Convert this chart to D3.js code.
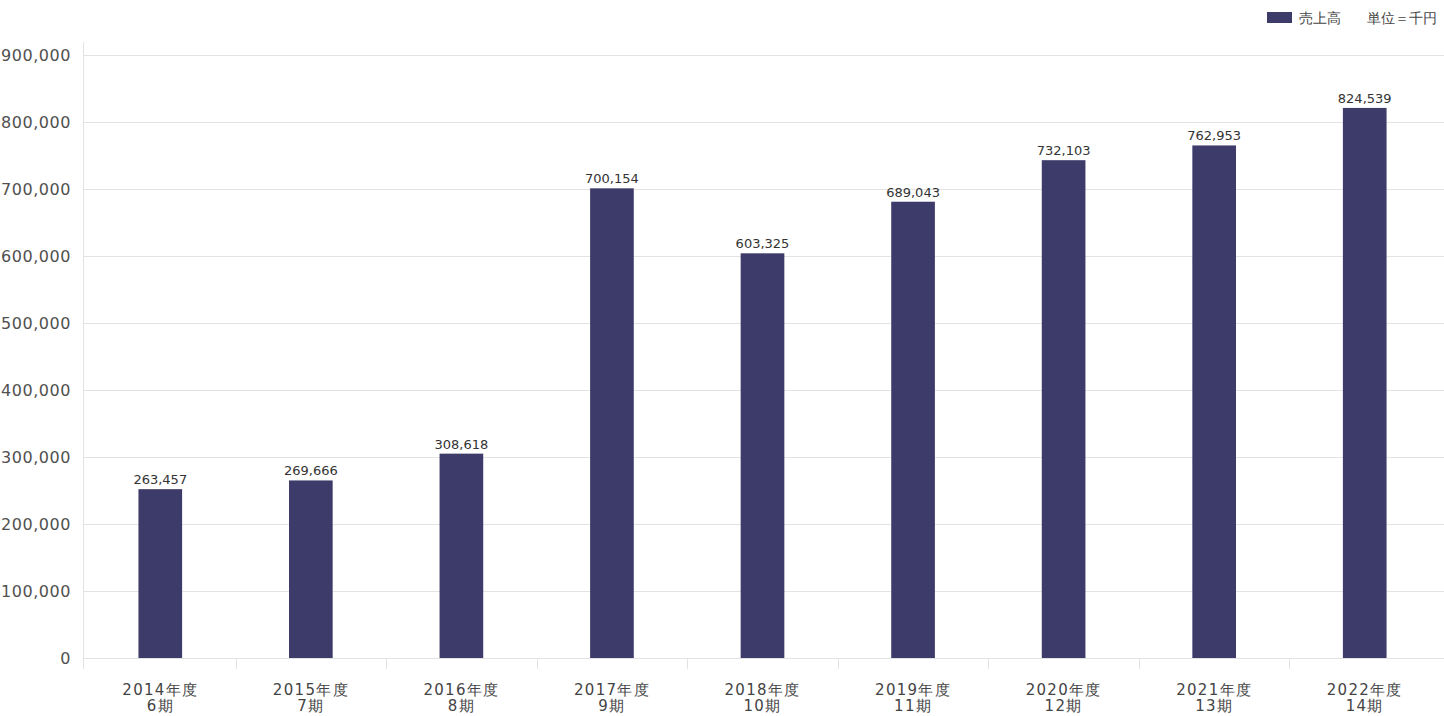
<!DOCTYPE html>
<html><head><meta charset="utf-8">
<script src="https://cdn.jsdelivr.net/npm/d3@7"></script>
<style>body{margin:0;background:#fff;}svg{display:block;}</style>
</head><body>
<svg id="c" width="1444" height="716"></svg>
<script>
const years = ["2014年度","2015年度","2016年度","2017年度","2018年度","2019年度","2020年度","2021年度","2022年度"];
const periods = ["6期","7期","8期","9期","10期","11期","12期","13期","14期"];
const barValues = [252000,265000,305000,701000,604000,681000,743000,765000,821000];
const labelValues = [263457,269666,308618,700154,603325,689043,732103,762953,824539];
const yTicks = [0,100000,200000,300000,400000,500000,600000,700000,800000,900000];
const seriesName = "売上高";
const unitText = "単位＝千円";

const svg = d3.select("#c");
const font = "'DejaVu Sans', sans-serif";
const x = d3.scaleBand().domain(years).range([85,1440]).paddingInner(0.71).paddingOuter(0.355);
const xb = d3.scaleBand().domain(years).range([85,1440]);
const y = d3.scaleLinear().domain([0,900000]).range([658,55]);
const fmt = d3.format(",");

// spread a text selection so a reference string gets the target width
function fitSpacing(sel, sample, target){
  const t = svg.append("text").attr("font-family",font)
    .attr("font-size",sel.attr("font-size")).text(sample);
  const w = t.node().getComputedTextLength();
  t.remove();
  const ls = (target - w)/sample.length;
  sel.attr("letter-spacing", ls.toFixed(2)+"px");
}

svg.append("g").selectAll("line").data(yTicks).join("line")
  .attr("x1",83).attr("x2",1444).attr("y1",d=>Math.round(y(d))+0.5).attr("y2",d=>Math.round(y(d))+0.5)
  .attr("stroke","#e3e3e3").attr("stroke-width",1);
svg.append("line").attr("x1",83.5).attr("x2",83.5).attr("y1",42).attr("y2",669)
  .attr("stroke","#e3e3e3");
svg.append("g").selectAll("line").data(years.slice(1)).join("line")
  .attr("x1",d=>Math.round(xb(d))+0.5).attr("x2",d=>Math.round(xb(d))+0.5)
  .attr("y1",658).attr("y2",669).attr("stroke","#e3e3e3");

const yl = svg.append("g").selectAll("text").data(yTicks).join("text")
  .attr("x",71).attr("y",d=>y(d)).attr("dy","0.35em").attr("text-anchor","end")
  .attr("font-family",font).attr("font-size",16).attr("fill","#505050")
  .text(d=>fmt(d));
fitSpacing(yl, "900,000", 70);

svg.append("g").selectAll("rect").data(barValues).join("rect")
  .attr("x",(d,i)=>x(years[i])).attr("width",x.bandwidth())
  .attr("y",d=>y(d)).attr("height",d=>y(0)-y(d))
  .attr("fill","#3d3b69");

svg.append("g").selectAll("text").data(labelValues).join("text")
  .attr("x",(d,i)=>x(years[i])+x.bandwidth()/2)
  .attr("y",(d,i)=>y(barValues[i])-5)
  .attr("text-anchor","middle").attr("font-family",font).attr("font-size",13)
  .attr("fill","#333").text(d=>fmt(d));

const xl = svg.append("g").selectAll("g").data(years).join("g")
  .attr("transform",(d,i)=>`translate(${x(d)+x.bandwidth()/2},0)`);
const l1 = xl.append("text").attr("y",695).attr("text-anchor","middle")
  .attr("font-family",font).attr("font-size",15).attr("fill","#444").text(d=>d);
const l2 = xl.append("text").attr("y",711).attr("text-anchor","middle")
  .attr("font-family",font).attr("font-size",15).attr("fill","#444").text((d,i)=>periods[i]);
fitSpacing(l1, "2014年度", 76);
l2.attr("letter-spacing", l1.attr("letter-spacing"));

svg.append("rect").attr("x",1267).attr("y",12).attr("width",25).attr("height",11).attr("fill","#3d3b69");
svg.append("text").attr("x",1299).attr("y",18).attr("dy","0.35em")
  .attr("font-family",font).attr("font-size",14).attr("fill","#444").text(seriesName);
svg.append("text").attr("x",1437).attr("y",18).attr("dy","0.35em").attr("text-anchor","end")
  .attr("font-family",font).attr("font-size",14).attr("fill","#444").text(unitText);
</script>
</body></html>
